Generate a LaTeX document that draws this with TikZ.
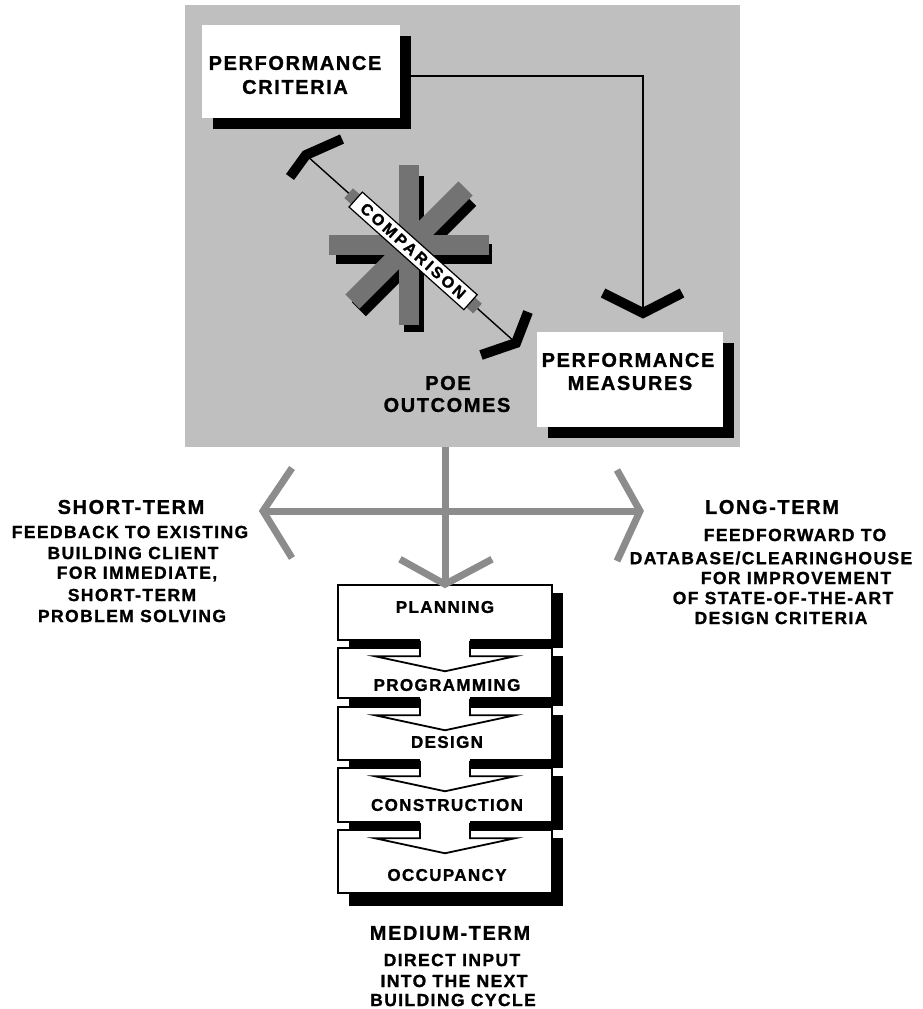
\documentclass[tikz,border=0pt]{standalone}
\usepackage{fontspec}
\setmainfont{Liberation Sans}[LetterSpace=8, BoldFeatures={FakeBold=1.2}]
\newfontfamily\cmpfamily{Liberation Sans}[LetterSpace=18, BoldFeatures={FakeBold=1.2}]
\usetikzlibrary{shadows,calc}
\definecolor{bggray}{gray}{0.75}
\definecolor{arrgray}{gray}{0.55}
\definecolor{stargray}{gray}{0.45}
\newcommand{\fntbig}{\fontsize{20}{22}\selectfont\bfseries}
\newcommand{\fntsub}{\fontsize{17.5}{21}\selectfont\bfseries}
\newcommand{\fntstk}{\fontsize{17}{20}\selectfont\bfseries}
\newcommand{\fntcmp}{\cmpfamily\fontsize{16}{18}\selectfont\bfseries}
\tikzset{
  bigbox/.style={fill=white, inner sep=0pt, drop shadow={shadow xshift=11pt, shadow yshift=-11pt, fill=black, opacity=1}},
  stagebox/.style={draw=black, line width=1.5pt, fill=white, inner sep=0pt, minimum width=214pt, drop shadow={shadow xshift=11pt, shadow yshift=-8pt, fill=black, opacity=1}},
  bigtxt/.style={font=\fntbig, inner sep=0pt},
  subtxt/.style={font=\fntsub, inner sep=0pt},
  stktxt/.style={font=\fntstk, inner sep=0pt},
  chev/.style={line width=10pt, line join=miter, miter limit=20},
  conline/.style={line width=1.4pt},
  grayarrow/.style={draw=arrgray, line width=7pt, line join=miter, miter limit=20},
  stemline/.style={line width=1.8pt, line join=miter},
}
\begin{document}
\begin{tikzpicture}[x=1pt,y=-1pt]
\useasboundingbox (0,0) rectangle (923,1009);
% grey panel
\node[fill=bggray, inner sep=0pt, minimum width=555pt, minimum height=442pt, anchor=north west] (bg) at (185,5) {};

% performance boxes
\node[bigbox, minimum width=198pt, minimum height=93pt] (crit) at (301,71.5) {};
\node[bigbox, minimum width=186pt, minimum height=95pt] (meas) at (630,379.5) {};
\node[bigtxt] (crit1) at (295,63) {PERFORMANCE};
\node[bigtxt] (crit2) at (295,87) {CRITERIA};
\node[bigtxt] (meas1) at (628,360) {PERFORMANCE};
\node[bigtxt] (meas2) at (630,383) {MEASURES};

\coordinate (cM) at (643,313);
\draw[conline] ([xshift=11pt,yshift=-4.5pt]crit.east) -| (cM);
\draw[chev] ($(cM)+(-40,-20)$) -- (cM) -- ($(cM)+(39,-20)$);

% star
\coordinate (star) at (409,245);
\foreach \ang in {0,45,90,180,225,270}{
  \fill[black, shift={(star)}, xshift=5pt, yshift=-9pt, rotate=\ang] (4,-10) rectangle (78,10);
}
\foreach \ang in {0,45,90,180,225,270}{
  \fill[stargray, shift={(star)}, rotate=\ang] (0,-10) rectangle (80,10);
}

% comparison
\coordinate (cA) at (306,155);
\coordinate (cB) at (516,343);
\coordinate (cmid) at ($(cA)!0.51!(cB)$);
\draw[conline] (cA) -- (cB);
\node[fill=stargray, minimum size=13pt, inner sep=0pt, rotate=-41.8] (sqA) at ($(cmid)!80pt!(cA)$) {};
\node[fill=stargray, minimum size=13pt, inner sep=0pt, rotate=-41.8] (sqB) at ($(cmid)!80pt!(cB)$) {};
\node[draw, line width=1.2pt, fill=white, inner sep=0pt, minimum width=154pt, minimum height=20pt, rotate=-41.8, font=\fntcmp] (cmp) at (cmid) {COMPARISON};
\draw[chev] ($(cA)+(36,-16)$) -- (cA) -- ($(cA)+(-16,22)$);
\draw[chev] ($(cB)+(12,-31)$) -- (cB) -- ($(cB)+(-35,12)$);

\node[bigtxt] (poe1) at (448,383) {POE};
\node[bigtxt] (poe2) at (447,405) {OUTCOMES};

% stages
\node[stagebox, minimum height=55pt] (plan) at (445,612.5) {};
\node[stagebox, minimum height=50pt] (prog) at (445,673) {};
\node[stagebox, minimum height=53pt] (des) at (445,733.5) {};
\node[stagebox, minimum height=54pt] (cons) at (445,795) {};
\node[stagebox, minimum height=63pt, drop shadow={shadow xshift=11pt, shadow yshift=-13pt, fill=black, opacity=1}] (occ) at (445,861.5) {};

\foreach \a/\b in {plan/prog, prog/des, des/cons, cons/occ}{
  \fill[white] ([xshift=-25pt,yshift=3pt]\a.south) rectangle ([xshift=25pt,yshift=-9pt]\b.north);
  \draw[stemline] ([xshift=-25pt]\a.south) -- ([xshift=-25pt,yshift=-9pt]\b.north) -- ([xshift=-70pt,yshift=-9pt]\b.north) -- ([yshift=-24pt]\b.north) -- ([xshift=70pt,yshift=-9pt]\b.north) -- ([xshift=25pt,yshift=-9pt]\b.north) -- ([xshift=25pt]\a.south);
}

\node[stktxt] (plant) at (445,607) {PLANNING};
\node[stktxt] (progt) at (447,685) {PROGRAMMING};
\node[stktxt] (dest) at (447,742) {DESIGN};
\node[stktxt] (const) at (447,805) {CONSTRUCTION};
\node[stktxt] (occt) at (447,875) {OCCUPANCY};

% grey three-way arrow
\coordinate (cL) at (263,511);
\coordinate (cR) at (640,511);
\draw[grayarrow] (plan.north |- bg.south) -- (plan.north);
\draw[grayarrow] (cL) -- (cR);
\draw[grayarrow] ($(cL)+(29,-43)$) -- (cL) -- ($(cL)+(29,47)$);
\draw[grayarrow] ($(cR)+(-23,-41)$) -- (cR) -- ($(cR)+(-23,50)$);
\draw[grayarrow] ($(plan.north)+(-45,-25)$) -- (plan.north) -- ($(plan.north)+(47,-25)$);

% left text
\node[bigtxt] (st1) at (131,507) {SHORT-TERM};
\node[subtxt] (st2) at (130,532) {FEEDBACK TO EXISTING};
\node[subtxt] (st3) at (133,553) {BUILDING CLIENT};
\node[subtxt] (st4) at (137,574) {FOR IMMEDIATE,};
\node[subtxt] (st5) at (132,595) {SHORT-TERM};
\node[subtxt] (st6) at (132,616) {PROBLEM SOLVING};

% right text
\node[bigtxt] (lt1) at (772,507) {LONG-TERM};
\node[subtxt] (lt2) at (795,535) {FEEDFORWARD TO};
\node[subtxt] (lt3) at (771,558) {DATABASE/CLEARINGHOUSE};
\node[subtxt] (lt4) at (796,578) {FOR IMPROVEMENT};
\node[subtxt] (lt5) at (783,598) {OF STATE-OF-THE-ART};
\node[subtxt] (lt6) at (781,618) {DESIGN CRITERIA};

% bottom text
\node[bigtxt] (mt1) at (450,933) {MEDIUM-TERM};
\node[subtxt] (mt2) at (452,960) {DIRECT INPUT};
\node[subtxt] (mt3) at (454,981) {INTO THE NEXT};
\node[subtxt] (mt4) at (453,1000) {BUILDING CYCLE};
\end{tikzpicture}
\end{document}
